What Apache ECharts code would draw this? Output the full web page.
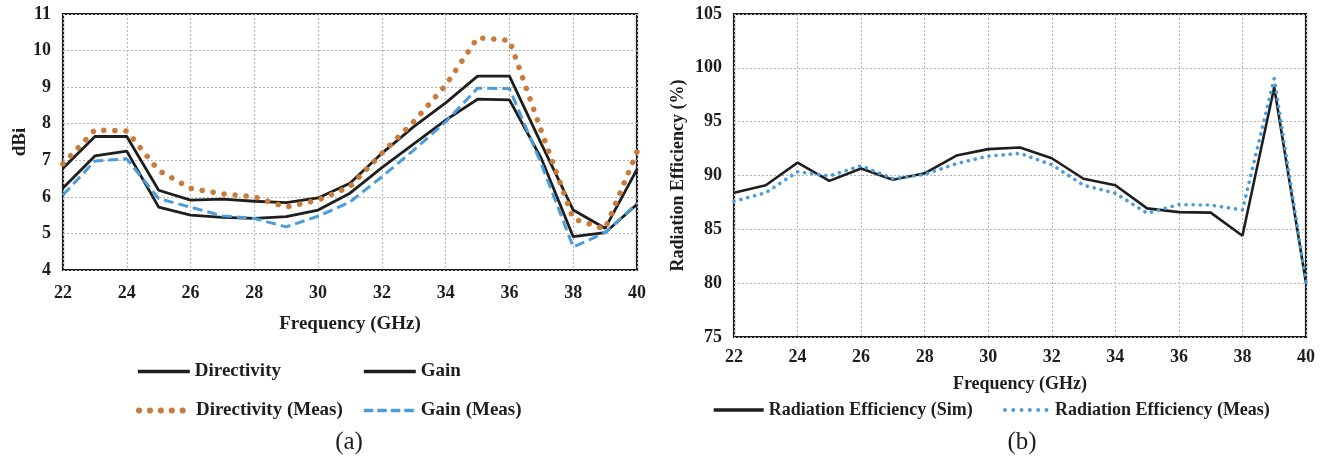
<!DOCTYPE html>
<html>
<head>
<meta charset="utf-8">
<style>
  html, body { margin: 0; padding: 0; background: #ffffff; }
  #chart { width: 1327px; height: 458px; }
</style>
<script src="https://cdn.jsdelivr.net/npm/echarts@6/dist/echarts.min.js"></script>
</head>
<body>
<div id="chart"></div>
<script>
// Frequency sweep (GHz)
const freq = [22, 23, 24, 25, 26, 27, 28, 29, 30, 31, 32, 33, 34, 35, 36, 37, 38, 39, 40];

// (a) Directivity and gain, dBi
const directivity     = [6.78, 7.65, 7.65, 6.18, 5.91, 5.94, 5.88, 5.84, 5.97, 6.37, 7.19, 7.92, 8.57, 9.30, 9.30, 7.45, 5.64, 5.14, 6.75];
const gain            = [6.24, 7.12, 7.25, 5.72, 5.50, 5.44, 5.41, 5.46, 5.64, 6.10, 6.80, 7.45, 8.10, 8.67, 8.65, 7.05, 4.91, 5.02, 5.80];
const directivityMeas = [6.90, 7.83, 7.80, 6.72, 6.23, 6.08, 6.00, 5.72, 5.91, 6.28, 7.19, 8.06, 9.05, 10.35, 10.28, 7.80, 5.40, 5.12, 7.23];
const gainMeas        = [6.05, 6.98, 7.04, 5.95, 5.72, 5.48, 5.41, 5.18, 5.47, 5.86, 6.55, 7.28, 8.05, 8.97, 8.96, 6.90, 4.63, 5.02, 5.82];

// (b) Radiation efficiency, %
const effSim  = [88.4, 89.1, 91.2, 89.5, 90.65, 89.6, 90.2, 91.85, 92.45, 92.6, 91.6, 89.7, 89.1, 86.95, 86.6, 86.55, 84.4, 98.2, 80.0];
const effMeas = [87.6, 88.4, 90.35, 89.95, 90.9, 89.7, 90.1, 91.1, 91.8, 92.05, 91.0, 89.1, 88.35, 86.5, 87.3, 87.25, 86.8, 99.0, 80.1];

// Axis tick settings
const freqTicks = { min: 22, max: 40, interval: 2 };
const dbiTicks  = { min: 4, max: 11, interval: 1 };
const effTicks  = { min: 75, max: 105, interval: 5 };

const pair = (ys) => freq.map((f, i) => [f, ys[i]]);

const SERIF = "'Liberation Serif', 'Times New Roman', serif";
const INK = '#1e1e1e';
const ORANGE = '#C97B3B';
const BLUE = '#4A9DD8';

// Line styles shared by the plotted series and their legend keys
const solidInk   = { color: INK, width: 2.8 };
const orangeDots = { color: ORANGE, width: 5.5, type: [0.1, 11], cap: 'round' };
const blueDashes = { color: BLUE, width: 3, type: [10, 5] };
const blueDots   = { color: BLUE, width: 3.6, type: [0.1, 7], cap: 'round' };

const gridLine = { show: true, lineStyle: { color: '#b4b4b4', width: 1, type: [2, 2] } };
const tickText = (margin) => ({ color: INK, fontFamily: SERIF, fontWeight: 'bold', fontSize: 18, margin: margin });

// One legend entry per component so each can sit at its own spot; the
// symbol is hidden so only the line pattern shows in the key.
function legendItem(name, left, top, width, size, line) {
  return {
    data: [name], left: left, top: top, orient: 'horizontal',
    itemWidth: width, itemHeight: 14, itemGap: 0, padding: 0,
    itemStyle: { opacity: 0 },
    lineStyle: line,
    textStyle: { color: INK, fontFamily: SERIF, fontWeight: 'bold', fontSize: size },
    selectedMode: false
  };
}

const chart = echarts.init(document.getElementById('chart'), null, { renderer: 'canvas' });

chart.setOption({
  backgroundColor: '#ffffff',
  animation: false,
  grid: [
    { left: 63, top: 14, width: 574, height: 256, show: true, borderColor: INK, borderWidth: 2.2, backgroundColor: 'transparent' },
    { left: 734, top: 14, width: 572, height: 323, show: true, borderColor: INK, borderWidth: 2.2, backgroundColor: 'transparent' }
  ],
  xAxis: [
    {
      gridIndex: 0, type: 'value', ...freqTicks,
      axisLine: { show: false }, axisTick: { show: false },
      axisLabel: tickText(14), splitLine: gridLine,
      name: 'Frequency (GHz)', nameLocation: 'middle', nameGap: 45,
      nameTextStyle: { color: INK, fontFamily: SERIF, fontWeight: 'bold', fontSize: 19 }
    },
    {
      gridIndex: 1, type: 'value', ...freqTicks,
      axisLine: { show: false }, axisTick: { show: false },
      axisLabel: tickText(11), splitLine: gridLine,
      name: 'Frequency (GHz)', nameLocation: 'middle', nameGap: 38,
      nameTextStyle: { color: INK, fontFamily: SERIF, fontWeight: 'bold', fontSize: 18 }
    }
  ],
  yAxis: [
    {
      gridIndex: 0, type: 'value', ...dbiTicks,
      axisLine: { show: false }, axisTick: { show: false },
      axisLabel: tickText(12), splitLine: gridLine,
      name: 'dBi', nameLocation: 'middle', nameGap: 31,
      nameTextStyle: { color: INK, fontFamily: SERIF, fontWeight: 'bold', fontSize: 19 }
    },
    {
      gridIndex: 1, type: 'value', ...effTicks,
      axisLine: { show: false }, axisTick: { show: false },
      axisLabel: tickText(12), splitLine: gridLine,
      name: 'Radiation Efficiency (%)', nameLocation: 'middle', nameGap: 47,
      nameTextStyle: { color: INK, fontFamily: SERIF, fontWeight: 'bold', fontSize: 18 }
    }
  ],
  legend: [
    legendItem('Directivity', 136, 362, 52, 19, { ...solidInk, width: 3.6 }),
    legendItem('Gain', 362, 362, 52, 19, { ...solidInk, width: 3.6 }),
    legendItem('Directivity (Meas)', 136, 401, 52, 19, { ...orangeDots, width: 6, type: [0.1, 10.8] }),
    legendItem('Gain (Meas)', 362, 401, 52, 19, { ...blueDashes, width: 3.6, type: [9.5, 4] }),
    legendItem('Radiation Efficiency (Sim)', 712, 401, 50, 18, { ...solidInk, width: 3.4 }),
    legendItem('Radiation Efficiency (Meas)', 1003, 401, 45, 18, { ...blueDots, width: 3.8, type: [0.1, 8.2] })
  ],
  graphic: [
    { type: 'text', x: 349, y: 442, style: { text: '(a)', fill: INK, font: "25px " + SERIF, align: 'center', verticalAlign: 'middle' } },
    { type: 'text', x: 1022, y: 442, style: { text: '(b)', fill: INK, font: "25px " + SERIF, align: 'center', verticalAlign: 'middle' } }
  ],
  series: [
    {
      name: 'Directivity', type: 'line', xAxisIndex: 0, yAxisIndex: 0,
      data: pair(directivity), symbol: 'none', z: 2,
      lineStyle: solidInk, itemStyle: { color: INK }
    },
    {
      name: 'Gain', type: 'line', xAxisIndex: 0, yAxisIndex: 0,
      data: pair(gain), symbol: 'none', z: 2,
      lineStyle: solidInk, itemStyle: { color: INK }
    },
    {
      name: 'Directivity (Meas)', type: 'line', xAxisIndex: 0, yAxisIndex: 0,
      data: pair(directivityMeas), symbol: 'none', z: 3,
      lineStyle: orangeDots, itemStyle: { color: ORANGE }
    },
    {
      name: 'Gain (Meas)', type: 'line', xAxisIndex: 0, yAxisIndex: 0,
      data: pair(gainMeas), symbol: 'none', z: 3,
      lineStyle: blueDashes, itemStyle: { color: BLUE }
    },
    {
      name: 'Radiation Efficiency (Sim)', type: 'line', xAxisIndex: 1, yAxisIndex: 1,
      data: pair(effSim), symbol: 'none', z: 3,
      lineStyle: { ...solidInk, width: 2.6 }, itemStyle: { color: INK }
    },
    {
      name: 'Radiation Efficiency (Meas)', type: 'line', xAxisIndex: 1, yAxisIndex: 1,
      data: pair(effMeas), symbol: 'none', z: 4,
      lineStyle: blueDots, itemStyle: { color: BLUE }
    }
  ]
});
</script>
</body>
</html>
